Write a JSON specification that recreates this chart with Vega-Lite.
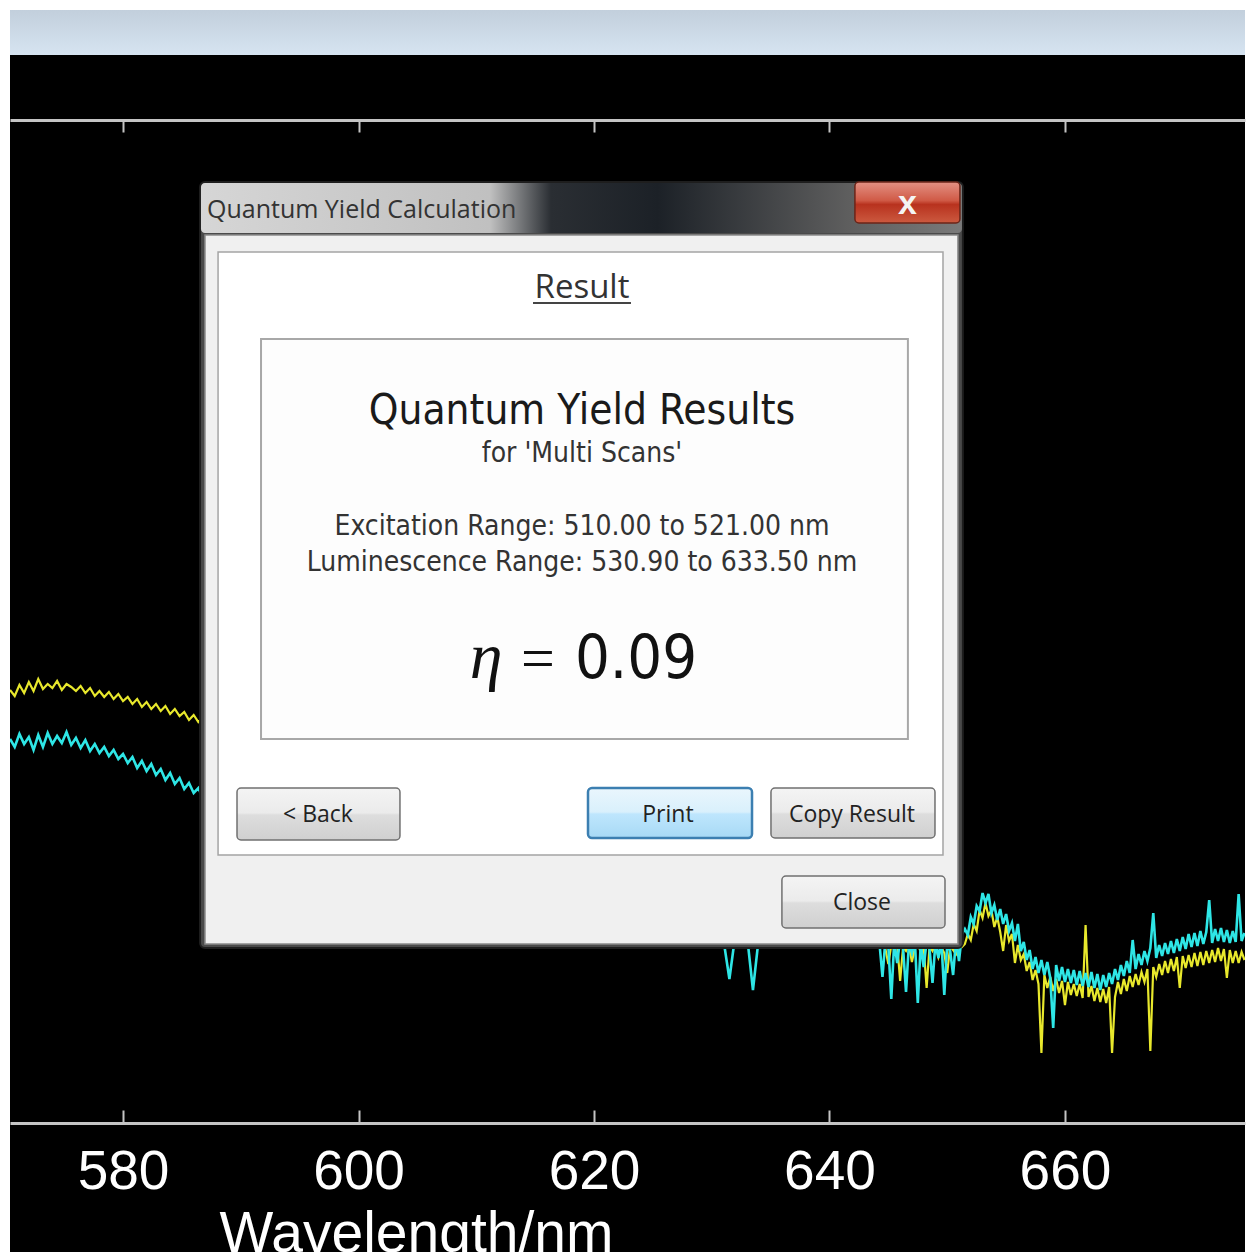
{
  "$schema": "https://vega.github.io/schema/vega-lite/v6.json",
  "width": 1235,
  "height": 1242,
  "autosize": {"type": "none"},
  "padding": {"left": 10, "top": 10, "right": 5, "bottom": 6},
  "background": "#ffffff",
  "config": {"view": {"fill": "#000000", "stroke": null}},
  "data": {"values": [{}]},
  "datasets": {
    "spec": [
      {"wl":570.4,"y":43.3,"c":38.4},{"wl":570.8,"y":42.7,"c":37.6},{"wl":571.2,"y":43.8,"c":38.9},{"wl":571.6,"y":43.0,"c":37.9},
      {"wl":572.0,"y":44.1,"c":38.6},{"wl":572.4,"y":43.2,"c":37.3},{"wl":572.8,"y":44.4,"c":38.8},{"wl":573.2,"y":43.4,"c":37.6},
      {"wl":573.6,"y":43.9,"c":39.0},{"wl":574.0,"y":43.5,"c":37.9},{"wl":574.4,"y":44.2,"c":38.7},{"wl":574.8,"y":43.3,"c":38.0},
      {"wl":575.2,"y":43.9,"c":39.1},{"wl":575.6,"y":43.6,"c":37.8},{"wl":576.0,"y":43.2,"c":38.5},{"wl":576.4,"y":43.7,"c":37.5},
      {"wl":576.8,"y":43.0,"c":38.3},{"wl":577.2,"y":43.5,"c":37.2},{"wl":577.6,"y":42.7,"c":37.9},{"wl":578.0,"y":43.2,"c":37.0},
      {"wl":578.4,"y":42.6,"c":37.6},{"wl":578.8,"y":43.1,"c":36.7},{"wl":579.2,"y":42.4,"c":37.3},{"wl":579.6,"y":42.9,"c":36.4},
      {"wl":580.0,"y":42.2,"c":36.9},{"wl":580.4,"y":42.6,"c":36.0},{"wl":580.8,"y":41.9,"c":36.6},{"wl":581.2,"y":42.4,"c":35.5},
      {"wl":581.6,"y":41.6,"c":36.2},{"wl":582.0,"y":42.1,"c":35.2},{"wl":582.4,"y":41.4,"c":35.9},{"wl":582.8,"y":41.9,"c":34.8},
      {"wl":583.2,"y":41.2,"c":35.4},{"wl":583.6,"y":41.7,"c":34.3},{"wl":584.0,"y":40.9,"c":35.0},{"wl":584.4,"y":41.4,"c":33.9},
      {"wl":584.8,"y":40.7,"c":34.5},{"wl":585.2,"y":41.1,"c":33.4},{"wl":585.6,"y":40.3,"c":34.0},{"wl":586.0,"y":40.8,"c":33.0},
      {"wl":586.4,"y":40.1,"c":33.5},{"wl":586.8,"y":40.5,"c":32.4},{"wl":587.2,"y":39.9,"c":32.9},
      {"wl":588,"y":39.6,"c":32.0},{"wl":590,"y":38.4,"c":30.6},{"wl":592,"y":37.0,"c":29.2},{"wl":594,"y":35.6,"c":27.9},
      {"wl":596,"y":34.2,"c":26.7},{"wl":598,"y":32.8,"c":25.6},{"wl":600,"y":31.4,"c":24.6},{"wl":602,"y":30.1,"c":23.7},
      {"wl":604,"y":28.8,"c":22.9},{"wl":606,"y":27.6,"c":22.2},{"wl":608,"y":26.4,"c":21.6},{"wl":610,"y":25.3,"c":21.0},
      {"wl":612,"y":24.3,"c":20.5},{"wl":614,"y":23.3,"c":20.1},{"wl":616,"y":22.4,"c":19.7},{"wl":618,"y":21.6,"c":19.4},
      {"wl":620,"y":20.9,"c":19.1},{"wl":622,"y":20.3,"c":18.9},{"wl":624,"y":19.8,"c":18.7},{"wl":626,"y":19.3,"c":18.6},
      {"wl":628,"y":18.9,"c":18.5},{"wl":630,"y":18.6,"c":18.4},
      {"wl":630.5,"y":18.7,"c":18.9},{"wl":631.0,"y":18.2,"c":18.3},{"wl":631.5,"y":18.6,"c":14.4},{"wl":632.0,"y":18.1,"c":18.8},
      {"wl":632.5,"y":18.8,"c":18.2},{"wl":633.0,"y":18.3,"c":18.7},{"wl":633.5,"y":18.5,"c":13.3},{"wl":634.0,"y":18.0,"c":18.6},
      {"wl":634.5,"y":18.7,"c":18.1},{"wl":635.0,"y":18.2,"c":18.9},{"wl":635.5,"y":18.6,"c":18.2},{"wl":636.0,"y":18.0,"c":18.7},
      {"wl":636.5,"y":18.5,"c":18.0},{"wl":637.0,"y":17.9,"c":18.6},{"wl":637.5,"y":18.4,"c":18.1},{"wl":638.0,"y":18.0,"c":18.7},
      {"wl":638.5,"y":18.6,"c":18.0},{"wl":639.0,"y":17.9,"c":18.5},{"wl":639.5,"y":18.3,"c":18.0},{"wl":640.0,"y":17.9,"c":18.6},
      {"wl":640.5,"y":18.4,"c":17.9},{"wl":641.0,"y":17.8,"c":18.5},{"wl":641.5,"y":18.2,"c":17.9},{"wl":642.0,"y":17.8,"c":18.4},
      {"wl":642.5,"y":18.3,"c":17.9},{"wl":643.0,"y":17.7,"c":18.4},{"wl":643.5,"y":18.1,"c":17.8},
      {"wl":644.00,"y":18.1,"c":18.4},{"wl":644.25,"y":17.5,"c":17.9},{"wl":644.50,"y":17.9,"c":14.6},{"wl":644.75,"y":17.4,"c":18.3},
      {"wl":645.00,"y":15.9,"c":17.6},{"wl":645.25,"y":17.8,"c":12.4},{"wl":645.50,"y":17.3,"c":18.2},{"wl":645.75,"y":17.9,"c":16.0},
      {"wl":646.00,"y":14.2,"c":18.4},{"wl":646.25,"y":17.6,"c":17.5},{"wl":646.50,"y":17.2,"c":13.1},{"wl":646.75,"y":17.8,"c":18.0},
      {"wl":647.00,"y":16.1,"c":17.0},{"wl":647.25,"y":17.5,"c":18.3},{"wl":647.50,"y":17.9,"c":12.0},{"wl":647.75,"y":17.1,"c":17.9},
      {"wl":648.00,"y":17.6,"c":15.6},{"wl":648.25,"y":13.5,"c":18.2},{"wl":648.50,"y":17.7,"c":17.4},{"wl":648.75,"y":17.2,"c":14.0},
      {"wl":649.00,"y":17.8,"c":18.1},{"wl":649.25,"y":16.6,"c":16.5},{"wl":649.50,"y":17.6,"c":18.3},{"wl":649.75,"y":17.0,"c":12.8},
      {"wl":650.00,"y":15.0,"c":17.9},{"wl":650.25,"y":17.7,"c":17.2},{"wl":650.50,"y":17.3,"c":14.8},{"wl":650.75,"y":16.9,"c":18.4},
      {"wl":651.00,"y":17.9,"c":16.2},{"wl":651.25,"y":17.6,"c":18.9},{"wl":651.50,"y":17.9,"c":19.4},{"wl":651.75,"y":18.9,"c":18.8},
      {"wl":652.00,"y":18.3,"c":20.6},{"wl":652.25,"y":19.9,"c":19.9},{"wl":652.50,"y":19.2,"c":21.7},{"wl":652.75,"y":21.3,"c":21.2},
      {"wl":653.00,"y":20.5,"c":23.0},{"wl":653.25,"y":22.0,"c":22.0},{"wl":653.50,"y":20.7,"c":22.9},{"wl":653.75,"y":21.3,"c":21.0},
      {"wl":654.00,"y":19.6,"c":21.8},{"wl":654.25,"y":20.6,"c":20.3},{"wl":654.50,"y":19.1,"c":21.4},{"wl":654.75,"y":17.2,"c":19.9},
      {"wl":655.00,"y":19.8,"c":20.9},{"wl":655.25,"y":18.2,"c":19.2},{"wl":655.50,"y":18.9,"c":20.0},{"wl":655.75,"y":16.0,"c":18.2},
      {"wl":656.00,"y":17.8,"c":19.9},{"wl":656.25,"y":16.3,"c":17.2},{"wl":656.50,"y":16.9,"c":18.1},{"wl":656.75,"y":15.2,"c":16.3},
      {"wl":657.00,"y":16.1,"c":17.3},{"wl":657.25,"y":14.3,"c":15.4},{"wl":657.50,"y":15.3,"c":16.6},{"wl":657.75,"y":13.9,"c":15.0},
      {"wl":658.00,"y":7.0,"c":16.3},{"wl":658.25,"y":14.8,"c":14.8},{"wl":658.50,"y":13.5,"c":16.1},{"wl":658.75,"y":14.6,"c":14.5},
      {"wl":659.00,"y":13.2,"c":9.5},{"wl":659.25,"y":14.4,"c":15.8},{"wl":659.50,"y":13.0,"c":14.2},{"wl":659.75,"y":14.2,"c":15.6},
      {"wl":660.00,"y":11.8,"c":14.1},{"wl":660.25,"y":14.1,"c":15.4},{"wl":660.50,"y":12.8,"c":14.0},{"wl":660.75,"y":13.9,"c":15.3},
      {"wl":661.00,"y":12.7,"c":13.8},{"wl":661.25,"y":13.9,"c":15.2},{"wl":661.50,"y":12.5,"c":13.7},{"wl":661.75,"y":19.8,"c":15.0},
      {"wl":662.00,"y":12.6,"c":13.6},{"wl":662.25,"y":13.7,"c":15.1},{"wl":662.50,"y":12.2,"c":13.5},{"wl":662.75,"y":13.5,"c":14.9},
      {"wl":663.00,"y":12.1,"c":13.3},{"wl":663.25,"y":13.4,"c":14.8},{"wl":663.50,"y":12.0,"c":13.6},{"wl":663.75,"y":13.6,"c":15.0},
      {"wl":664.00,"y":7.0,"c":13.9},{"wl":664.25,"y":12.6,"c":15.4},{"wl":664.50,"y":14.1,"c":14.3},{"wl":664.75,"y":12.9,"c":15.8},
      {"wl":665.00,"y":14.4,"c":14.7},{"wl":665.25,"y":13.2,"c":16.2},{"wl":665.50,"y":14.7,"c":15.0},{"wl":665.75,"y":13.6,"c":18.3},
      {"wl":666.00,"y":14.9,"c":15.4},{"wl":666.25,"y":13.8,"c":16.9},{"wl":666.50,"y":15.1,"c":15.8},{"wl":666.75,"y":14.1,"c":17.2},
      {"wl":667.00,"y":15.4,"c":16.2},{"wl":667.25,"y":7.2,"c":17.5},{"wl":667.50,"y":15.6,"c":21.0},{"wl":667.75,"y":14.6,"c":16.5},
      {"wl":668.00,"y":15.9,"c":17.8},{"wl":668.25,"y":14.8,"c":16.7},{"wl":668.50,"y":16.2,"c":18.0},{"wl":668.75,"y":15.0,"c":16.9},
      {"wl":669.00,"y":16.4,"c":18.2},{"wl":669.25,"y":15.2,"c":17.0},{"wl":669.50,"y":16.6,"c":18.4},{"wl":669.75,"y":13.5,"c":17.2},
      {"wl":670.00,"y":16.7,"c":18.6},{"wl":670.25,"y":15.5,"c":17.4},{"wl":670.50,"y":16.8,"c":18.9},{"wl":670.75,"y":15.6,"c":17.6},
      {"wl":671.00,"y":17.0,"c":19.0},{"wl":671.25,"y":15.7,"c":17.7},{"wl":671.50,"y":17.1,"c":19.2},{"wl":671.75,"y":15.8,"c":17.9},
      {"wl":672.00,"y":17.2,"c":19.1},{"wl":672.25,"y":16.0,"c":22.3},{"wl":672.50,"y":17.3,"c":18.0},{"wl":672.75,"y":16.1,"c":19.4},
      {"wl":673.00,"y":17.5,"c":18.2},{"wl":673.25,"y":16.2,"c":19.5},{"wl":673.50,"y":17.4,"c":18.1},{"wl":673.75,"y":14.5,"c":19.3},
      {"wl":674.00,"y":17.3,"c":18.0},{"wl":674.25,"y":16.0,"c":19.2},{"wl":674.50,"y":17.2,"c":18.1},{"wl":674.75,"y":16.0,"c":22.9},
      {"wl":675.00,"y":17.1,"c":18.2},{"wl":675.25,"y":16.3,"c":19.0}
    ]
  },
  "layer": [
    {
      "mark": {"type": "rect", "fill": {"gradient": "linear", "x1": 0, "y1": 0, "x2": 0, "y2": 1, "stops": [{"offset": 0, "color": "#c2cfdc"}, {"offset": 1, "color": "#d6e4f1"}]}},
      "encoding": {"x": {"datum": 570.4, "axis": null}, "x2": {"datum": 675.29}, "y": {"datum": 111.3, "axis": null}, "y2": {"datum": 106.8}}
    },
    {
      "data": {"name": "spec"},
      "mark": {"type": "line", "color": "#e8e82c", "strokeWidth": 2.2, "clip": true},
      "encoding": {
        "x": {"field": "wl", "type": "quantitative", "scale": {"domain": [570.4, 675.29], "nice": false, "zero": false},
          "axis": {"orient": "bottom", "offset": -129, "values": [580, 600, 620, 640, 660], "grid": false,
            "domainColor": "#c4c4c4", "domainWidth": 3, "tickColor": "#c4c4c4", "tickWidth": 2, "tickSize": -13,
            "labelColor": "#ffffff", "labelFont": "Liberation Sans", "labelFontSize": 55, "labelPadding": 35, "labelFlush": false, "labelOverlap": false,
            "title": "Wavelength/nm", "titleColor": "#ffffff", "titleFont": "Liberation Sans", "titleFontSize": 57, "titleFontWeight": "normal",
            "titleX": 406, "titleY": 128, "titleAlign": "center", "titleBaseline": "alphabetic"}},
        "y": {"field": "y", "type": "quantitative", "scale": {"domain": [-12.9, 111.3], "nice": false, "zero": false}, "axis": null}
      }
    },
    {
      "data": {"name": "spec"},
      "mark": {"type": "line", "color": "#2ee6e6", "strokeWidth": 2.6, "clip": true},
      "encoding": {
        "x": {"field": "wl", "type": "quantitative",
          "axis": {"orient": "top", "offset": -110, "values": [580, 600, 620, 640, 660], "grid": false,
            "domainColor": "#c4c4c4", "domainWidth": 3, "tickColor": "#c4c4c4", "tickWidth": 2, "tickSize": -12,
            "labels": false, "title": null}},
        "y": {"field": "c", "type": "quantitative", "axis": null}
      }
    },
    {
      "mark": {"type": "rect", "fill": "#4a4a4a", "stroke": "#1e1e1e", "strokeWidth": 2, "cornerRadius": 5},
      "encoding": {"x": {"datum": 586.54, "axis": null}, "x2": {"datum": 651.33}, "y": {"datum": 94.1, "axis": null}, "y2": {"datum": 17.5}}
    },
    {
      "mark": {"type": "rect", "cornerRadius": 4, "fill": {"gradient": "linear", "x1": 0, "y1": 0, "x2": 1, "y2": 0, "stops": [{"offset": 0, "color": "#d6d6d6"}, {"offset": 0.38, "color": "#c0c0c0"}, {"offset": 0.46, "color": "#2a2e33"}, {"offset": 0.6, "color": "#1c2127"}, {"offset": 0.85, "color": "#5e5e5e"}, {"offset": 1, "color": "#7a7a7a"}]}},
      "encoding": {"x": {"datum": 586.62, "axis": null}, "x2": {"datum": 651.25}, "y": {"datum": 94.0, "axis": null}, "y2": {"datum": 89.0}}
    },
    {
      "mark": {"type": "rect", "fill": "#f0f0f0", "stroke": "#8a8a8a", "strokeWidth": 1.5},
      "encoding": {"x": {"datum": 586.96, "axis": null}, "x2": {"datum": 650.91}, "y": {"datum": 88.8, "axis": null}, "y2": {"datum": 17.9}}
    },
    {
      "mark": {"type": "rect", "fill": "#ffffff", "stroke": "#a4a4a4", "strokeWidth": 1.5},
      "encoding": {"x": {"datum": 588.07, "axis": null}, "x2": {"datum": 649.64}, "y": {"datum": 87.1, "axis": null}, "y2": {"datum": 26.8}}
    },
    {
      "mark": {"type": "rect", "cornerRadius": 4, "stroke": "#6b2418", "strokeWidth": 1.5, "fill": {"gradient": "linear", "x1": 0, "y1": 0, "x2": 0, "y2": 1, "stops": [{"offset": 0, "color": "#e39184"}, {"offset": 0.45, "color": "#d05a46"}, {"offset": 0.55, "color": "#b8321e"}, {"offset": 1, "color": "#cc5a40"}]}},
      "encoding": {"x": {"datum": 642.16, "axis": null}, "x2": {"datum": 651.08}, "y": {"datum": 94.1, "axis": null}, "y2": {"datum": 90.0}}
    },
    {
      "mark": {"type": "text", "text": "x", "font": "Liberation Sans", "fontSize": 34, "fontWeight": "bold", "color": "#f4f4f4", "align": "center", "baseline": "alphabetic"},
      "encoding": {"x": {"datum": 646.62, "axis": null}, "y": {"datum": 90.9, "axis": null}}
    },
    {
      "mark": {"type": "text", "text": "Quantum Yield Calculation", "font": "Open Sans", "fontSize": 25, "color": "#333333", "align": "left", "baseline": "alphabetic"},
      "encoding": {"x": {"datum": 587.13, "axis": null}, "y": {"datum": 90.5, "axis": null}}
    },
    {
      "mark": {"type": "text", "text": "Result", "font": "Open Sans", "fontSize": 33, "color": "#333333", "align": "center", "baseline": "alphabetic"},
      "encoding": {"x": {"datum": 618.98, "axis": null}, "y": {"datum": 82.5, "axis": null}}
    },
    {
      "mark": {"type": "rule", "color": "#444444", "strokeWidth": 2},
      "encoding": {"x": {"datum": 614.82, "axis": null}, "x2": {"datum": 623.14}, "y": {"datum": 82.0, "axis": null}}
    },
    {
      "mark": {"type": "rect", "fill": "#fdfdfd", "stroke": "#a8a8a8", "strokeWidth": 2},
      "encoding": {"x": {"datum": 591.72, "axis": null}, "x2": {"datum": 646.66}, "y": {"datum": 78.4, "axis": null}, "y2": {"datum": 38.4}}
    },
    {
      "mark": {"type": "text", "text": "Quantum Yield Results", "font": "DejaVu Sans Condensed, Liberation Sans", "fontSize": 42, "color": "#1a1a1a", "align": "center", "baseline": "alphabetic"},
      "encoding": {"x": {"datum": 618.98, "axis": null}, "y": {"datum": 69.9, "axis": null}}
    },
    {
      "mark": {"type": "text", "text": "for 'Multi Scans'", "font": "DejaVu Sans Condensed, Liberation Sans", "fontSize": 28, "color": "#333333", "align": "center", "baseline": "alphabetic"},
      "encoding": {"x": {"datum": 618.98, "axis": null}, "y": {"datum": 66.1, "axis": null}}
    },
    {
      "mark": {"type": "text", "text": "Excitation Range: 510.00 to 521.00 nm", "font": "DejaVu Sans Condensed, Liberation Sans", "fontSize": 28, "color": "#333333", "align": "center", "baseline": "alphabetic"},
      "encoding": {"x": {"datum": 618.98, "axis": null}, "y": {"datum": 58.8, "axis": null}}
    },
    {
      "mark": {"type": "text", "text": "Luminescence Range: 530.90 to 633.50 nm", "font": "DejaVu Sans Condensed, Liberation Sans", "fontSize": 28, "color": "#333333", "align": "center", "baseline": "alphabetic"},
      "encoding": {"x": {"datum": 618.98, "axis": null}, "y": {"datum": 55.2, "axis": null}}
    },
    {
      "mark": {"type": "text", "text": "η", "font": "Liberation Serif", "fontStyle": "italic", "fontSize": 66, "color": "#111111", "align": "center", "baseline": "alphabetic"},
      "encoding": {"x": {"datum": 610.83, "axis": null}, "y": {"datum": 44.5, "axis": null}}
    },
    {
      "mark": {"type": "text", "text": "=", "font": "Liberation Serif", "fontSize": 60, "color": "#111111", "align": "center", "baseline": "alphabetic"},
      "encoding": {"x": {"datum": 615.24, "axis": null}, "y": {"datum": 44.5, "axis": null}}
    },
    {
      "mark": {"type": "text", "text": "0.09", "font": "DejaVu Sans Condensed, Liberation Sans", "fontSize": 61, "color": "#111111", "align": "left", "baseline": "alphabetic"},
      "encoding": {"x": {"datum": 618.38, "axis": null}, "y": {"datum": 44.5, "axis": null}}
    },
    {
      "mark": {"type": "rect", "cornerRadius": 4, "stroke": "#707070", "strokeWidth": 1.5, "fill": {"gradient": "linear", "x1": 0, "y1": 0, "x2": 0, "y2": 1, "stops": [{"offset": 0, "color": "#f4f4f4"}, {"offset": 0.48, "color": "#ebebeb"}, {"offset": 0.52, "color": "#dddddd"}, {"offset": 1, "color": "#d0d0d0"}]}},
      "encoding": {"x": {"datum": 589.68, "axis": null}, "x2": {"datum": 603.52}, "y": {"datum": 33.5, "axis": null}, "y2": {"datum": 28.3}}
    },
    {
      "mark": {"type": "rect", "cornerRadius": 4, "stroke": "#3c7fb1", "strokeWidth": 2.5, "fill": {"gradient": "linear", "x1": 0, "y1": 0, "x2": 0, "y2": 1, "stops": [{"offset": 0, "color": "#eaf6fd"}, {"offset": 0.48, "color": "#d9f0fc"}, {"offset": 0.52, "color": "#bee6fd"}, {"offset": 1, "color": "#a7d9f5"}]}},
      "encoding": {"x": {"datum": 619.49, "axis": null}, "x2": {"datum": 633.42}, "y": {"datum": 33.5, "axis": null}, "y2": {"datum": 28.5}}
    },
    {
      "mark": {"type": "rect", "cornerRadius": 4, "stroke": "#707070", "strokeWidth": 1.5, "fill": {"gradient": "linear", "x1": 0, "y1": 0, "x2": 0, "y2": 1, "stops": [{"offset": 0, "color": "#f4f4f4"}, {"offset": 0.48, "color": "#ebebeb"}, {"offset": 0.52, "color": "#dddddd"}, {"offset": 1, "color": "#d0d0d0"}]}},
      "encoding": {"x": {"datum": 635.03, "axis": null}, "x2": {"datum": 648.96}, "y": {"datum": 33.5, "axis": null}, "y2": {"datum": 28.5}}
    },
    {
      "mark": {"type": "rect", "cornerRadius": 4, "stroke": "#707070", "strokeWidth": 1.5, "fill": {"gradient": "linear", "x1": 0, "y1": 0, "x2": 0, "y2": 1, "stops": [{"offset": 0, "color": "#f4f4f4"}, {"offset": 0.48, "color": "#ebebeb"}, {"offset": 0.52, "color": "#dddddd"}, {"offset": 1, "color": "#d0d0d0"}]}},
      "encoding": {"x": {"datum": 635.96, "axis": null}, "x2": {"datum": 649.81}, "y": {"datum": 24.7, "axis": null}, "y2": {"datum": 19.5}}
    },
    {
      "mark": {"type": "text", "text": "< Back", "font": "Open Sans", "fontSize": 23, "color": "#222222", "align": "center", "baseline": "middle"},
      "encoding": {"x": {"datum": 596.56, "axis": null}, "y": {"datum": 30.8, "axis": null}}
    },
    {
      "mark": {"type": "text", "text": "Print", "font": "Open Sans", "fontSize": 23, "color": "#222222", "align": "center", "baseline": "middle"},
      "encoding": {"x": {"datum": 626.28, "axis": null}, "y": {"datum": 30.8, "axis": null}}
    },
    {
      "mark": {"type": "text", "text": "Copy Result", "font": "Open Sans", "fontSize": 23, "color": "#222222", "align": "center", "baseline": "middle"},
      "encoding": {"x": {"datum": 641.91, "axis": null}, "y": {"datum": 30.8, "axis": null}}
    },
    {
      "mark": {"type": "text", "text": "Close", "font": "Open Sans", "fontSize": 23, "color": "#222222", "align": "center", "baseline": "middle"},
      "encoding": {"x": {"datum": 642.76, "axis": null}, "y": {"datum": 22.0, "axis": null}}
    }
  ]
}
